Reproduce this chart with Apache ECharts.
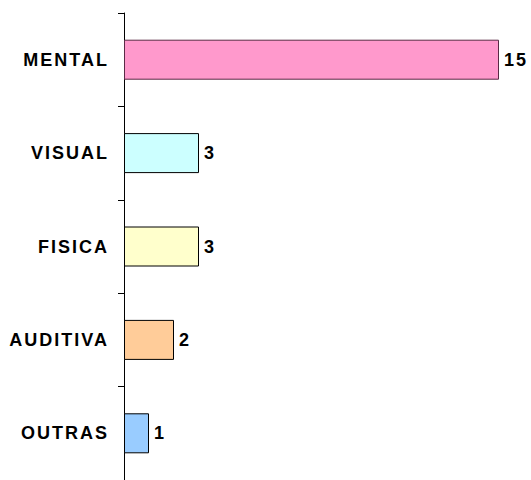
<!DOCTYPE html>
<html>
<head>
<meta charset="utf-8">
<script src="https://cdn.jsdelivr.net/npm/echarts@6/dist/echarts.min.js"></script>
<style>
  html, body { margin: 0; padding: 0; background: #ffffff; }
  #chart { width: 531px; height: 480px; }
  /* wide, spaced bold lettering for the labels */
  #chart text { letter-spacing: 2px; }
</style>
</head>
<body>
<div id="chart"></div>
<script>
// Deficiency types, top to bottom
const categories = ['MENTAL', 'VISUAL', 'FISICA', 'AUDITIVA', 'OUTRAS'];
const counts = [15, 3, 3, 2, 1];
const barColors = ['#FF99CC', '#CCFFFF', '#FFFFCC', '#FFCC99', '#99CCFF'];
const barBorders = ['#5a2a45', '#000000', '#000000', '#000000', '#000000'];

const chart = echarts.init(document.getElementById('chart'), null, { renderer: 'svg' });

chart.setOption({
  animation: false,
  backgroundColor: '#ffffff',
  grid: { left: 124, top: 13, width: 375, height: 470, containLabel: false },
  xAxis: {
    type: 'value',
    min: 0,
    max: 15,
    show: false
  },
  yAxis: {
    type: 'category',
    data: categories,
    inverse: true,
    axisLine: { show: true, lineStyle: { color: '#000000', width: 1 } },
    axisTick: { show: true, length: 6, lineStyle: { color: '#000000' } },
    axisLabel: {
      margin: 15,
      color: '#000000',
      fontFamily: 'Liberation Sans, Arial, sans-serif',
      fontWeight: 'bold',
      fontSize: 18
    },
    splitLine: { show: false }
  },
  series: [{
    type: 'bar',
    barWidth: 40,
    data: counts.map((v, i) => ({
      value: v,
      itemStyle: { color: barColors[i], borderColor: barBorders[i], borderWidth: 1 }
    })),
    label: {
      show: true,
      position: 'right',
      distance: 5,
      color: '#000000',
      fontFamily: 'Liberation Sans, Arial, sans-serif',
      fontWeight: 'bold',
      fontSize: 18
    }
  }]
});
</script>
</body>
</html>
